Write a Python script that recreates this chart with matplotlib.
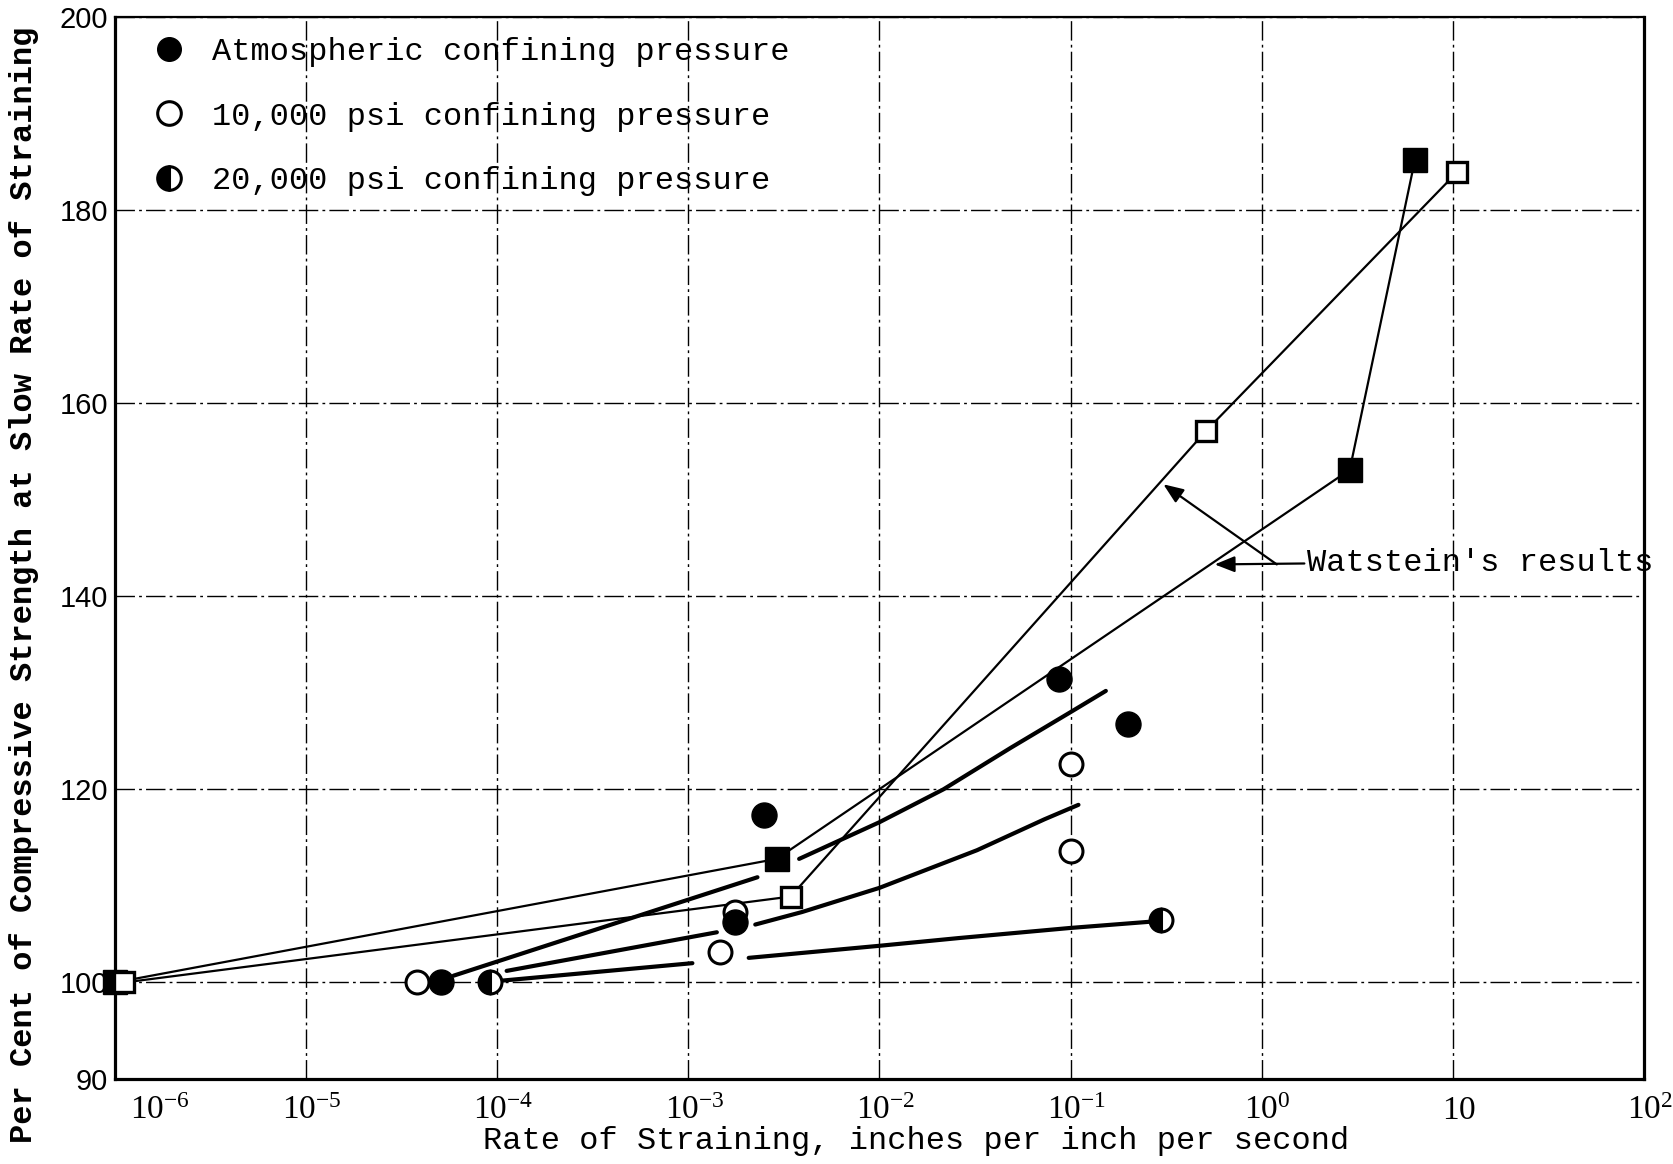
import matplotlib
matplotlib.use("Agg")
import matplotlib.pyplot as plt
from matplotlib.ticker import NullLocator
from matplotlib.transforms import ScaledTranslation

plt.rcParams["mathtext.fontset"] = "custom"
plt.rcParams["mathtext.rm"] = "Liberation Serif"
plt.rcParams["mathtext.it"] = "Liberation Serif"

# ---------------- data ----------------
# Test points
atm_x = [5.1e-5, 1.75e-3, 2.5e-3, 0.0865, 0.201]
atm_y = [100.0, 106.3, 117.3, 131.4, 126.8]
p10_x = [3.8e-5, 1.47e-3, 1.75e-3, 0.1, 0.1]
p10_y = [100.0, 103.2, 107.3, 122.6, 113.6]
p20_x = [9.2e-5, 0.296]
p20_y = [100.0, 106.45]

# Watstein's results
wat_filled_x = [1.0e-6, 2.9e-3, 2.89, 6.34]
wat_filled_y = [100.0, 112.8, 153.1, 185.2]
wat_open_x = [1.12e-6, 3.43e-3, 0.51, 10.5]
wat_open_y = [100.0, 108.9, 157.1, 183.9]

# Hand-drawn fitted curves (two pieces each, broken at the points)
atm_fit1_x = [5.9e-5, 2.3e-3]
atm_fit1_y = [100.7, 110.9]
atm_fit2_x = [3.8e-3, 1.0e-2, 2.16e-2, 4.86e-2, 0.1, 0.153]
atm_fit2_y = [112.8, 116.6, 120.0, 124.3, 128.0, 130.2]
p10_fit1_x = [1.12e-4, 1.41e-3]
p10_fit1_y = [101.2, 105.2]
p10_fit2_x = [2.24e-3, 3.94e-3, 1.0e-2, 3.24e-2, 7.3e-2, 0.11]
p10_fit2_y = [106.0, 107.3, 109.8, 113.7, 116.9, 118.4]
p20_fit1_x = [1.07e-4, 1.05e-3]
p20_fit1_y = [100.2, 102.0]
p20_fit2_x = [2.07e-3, 1.0e-2, 2.6e-2, 0.1, 0.264]
p20_fit2_y = [102.55, 103.8, 104.6, 105.65, 106.3]

# Annotation geometry (data coordinates)
ann_text_xy = (1.73, 143.4)
ann_tip_filled = (0.568, 143.3)
ann_junction = (1.2, 143.3)
ann_tip_open = (0.306, 151.6)

xtick_vals = [1e-6, 1e-5, 1e-4, 1e-3, 1e-2, 1e-1, 1e0, 1e1, 1e2]
xtick_labels = [r"$\mathrm{10^{-6}}$", r"$\mathrm{10^{-5}}$", r"$\mathrm{10^{-4}}$",
                r"$\mathrm{10^{-3}}$", r"$\mathrm{10^{-2}}$", r"$\mathrm{10^{-1}}$",
                r"$\mathrm{10^{0}}$", r"$\mathrm{10}$", r"$\mathrm{10^{2}}$"]
ytick_vals = [90, 100, 120, 140, 160, 180, 200]
ytick_labels = ["90", "100", "120", "140", "160", "180", "200"]

legend_labels = ["Atmospheric confining pressure",
                 "10,000 psi confining pressure",
                 "20,000 psi confining pressure"]

# ---------------- figure ----------------
mono = "Liberation Mono"
fig = plt.figure(figsize=(16.74, 11.64), dpi=100)
ax = fig.add_axes([0.0687, 0.073, 0.9133, 0.9124])
ax.set_xscale("log")
ax.set_xlim(1e-6, 1e2)
ax.set_ylim(90, 200)

ax.grid(True, which="major", color="k", lw=1.0, ls=(0, (14, 3, 2, 3)), zorder=0)
ax.set_axisbelow(True)

thick = 3.0
thin = 1.6
for xs, ys in [(atm_fit1_x, atm_fit1_y), (atm_fit2_x, atm_fit2_y),
               (p10_fit1_x, p10_fit1_y), (p10_fit2_x, p10_fit2_y),
               (p20_fit1_x, p20_fit1_y), (p20_fit2_x, p20_fit2_y)]:
    ax.plot(xs, ys, color="k", lw=thick, solid_capstyle="round",
            solid_joinstyle="round", zorder=2)

# Watstein lines and squares
ax.plot(wat_filled_x, wat_filled_y, color="k", lw=thin, zorder=2, clip_on=False)
ax.plot(wat_open_x, wat_open_y, color="k", lw=thin, zorder=2, clip_on=False)
ax.plot(wat_filled_x, wat_filled_y, ls="none", marker="s", ms=17, mfc="k", mec="k",
        mew=1, zorder=4, clip_on=False)
ax.plot(wat_open_x, wat_open_y, ls="none", marker="s", ms=14.5, mfc="white", mec="k",
        mew=2.4, zorder=5, clip_on=False)

# test points
h10, = ax.plot(p10_x, p10_y, ls="none", marker="o", ms=16.5, mfc="white", mec="k",
               mew=2.2, zorder=5, label=legend_labels[1])
hatm, = ax.plot(atm_x, atm_y, ls="none", marker="o", ms=18, mfc="k", mec="k",
                mew=1, zorder=6, label=legend_labels[0])
h20, = ax.plot(p20_x, p20_y, ls="none", marker="o", ms=16.5, fillstyle="left",
               mfc="k", mfcalt="white", mec="k", mew=2.2, zorder=6,
               label=legend_labels[2])

# annotation
arrow_kw = dict(arrowstyle="-|>,head_length=0.55,head_width=0.22", color="k",
                lw=1.6, mutation_scale=22, shrinkA=0, shrinkB=0)
ax.annotate("Watstein's results", xy=ann_tip_filled, xytext=ann_text_xy,
            textcoords="data", ha="left", va="center", fontsize=23, family=mono,
            arrowprops=dict(relpos=(0.0, 0.5), **arrow_kw), zorder=7,
            annotation_clip=False)
ax.annotate("", xy=ann_tip_open, xytext=ann_junction, textcoords="data",
            arrowprops=arrow_kw, zorder=7)

# legend
leg = ax.legend(handles=[hatm, h10, h20], loc="upper left",
                bbox_to_anchor=(0.025, 0.981), frameon=False, borderpad=0,
                borderaxespad=0, handlelength=1.0, handletextpad=0.85,
                labelspacing=1.08, prop={"family": mono, "size": 23},
                numpoints=1)
for lh in leg.legend_handles:
    lh.set_markersize(17)

# ticks
ax.xaxis.set_minor_locator(NullLocator())
ax.tick_params(axis="both", length=0)
ax.tick_params(axis="x", pad=10, labelsize=24)
ax.tick_params(axis="y", pad=5, labelsize=21, labelfontfamily="Liberation Sans")
ax.set_xticks(xtick_vals, xtick_labels)
ax.set_yticks(ytick_vals, ytick_labels)
for i, lab in enumerate(ax.get_xticklabels()):
    dx = 45 if i == 0 else 6
    lab.set_transform(lab.get_transform() + ScaledTranslation(dx / 100, 0, fig.dpi_scale_trans))

for side in ["left", "bottom", "right"]:
    ax.spines[side].set_linewidth(2.3)
ax.spines["top"].set_linewidth(1.6)

ax.set_xlabel("Rate of Straining, inches per inch per second", family=mono,
              fontsize=23)
ax.xaxis.set_label_coords(0.524, -0.044)
ax.set_ylabel("Per Cent of Compressive Strength at Slow Rate of Straining",
              family=mono, fontsize=23, fontweight="bold")
ax.yaxis.set_label_coords(-0.050, 0.465)

fig.savefig("out.png", dpi=100, facecolor="white")
